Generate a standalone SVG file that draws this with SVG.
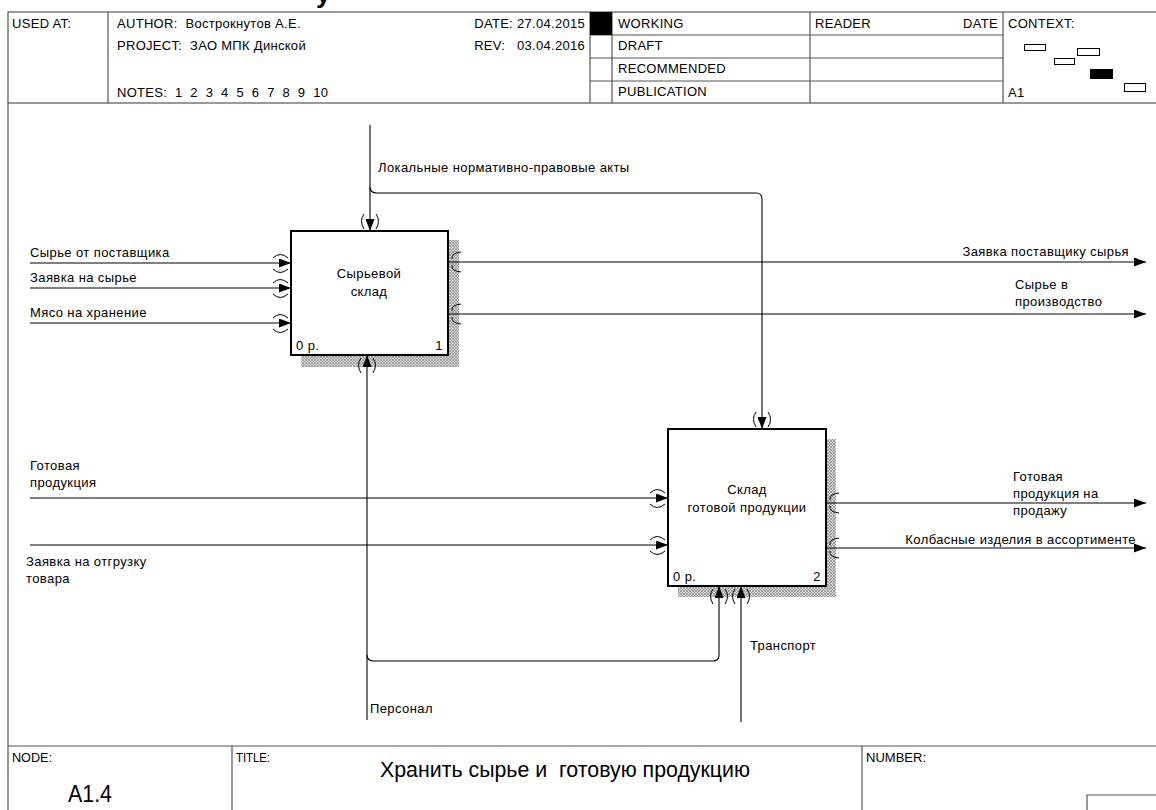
<svg xmlns="http://www.w3.org/2000/svg" width="1156" height="810" viewBox="0 0 1156 810">
<style>
text{font-family:"Liberation Sans",Arial,sans-serif;font-size:13px;letter-spacing:0.4px;fill:#000;white-space:pre}
.hdr{font-size:13px;letter-spacing:0.3px}
.frame{fill:none;stroke:#555;stroke-width:1.2}
.box{fill:#fff;stroke:#000;stroke-width:2}
.arr{fill:none;stroke:#000;stroke-width:1.1}
.tun{fill:none;stroke:#000;stroke-width:1}
.narrow{font-size:12px;letter-spacing:0}
</style>
<defs>
<marker id="ah" markerUnits="userSpaceOnUse" markerWidth="12" markerHeight="9" refX="12" refY="4.5" orient="auto">
<path d="M0,0 L12,4.5 L0,9 z" fill="#000"/>
</marker>
<pattern id="hatch" width="3" height="3" patternUnits="userSpaceOnUse">
<rect width="3" height="3" fill="#d8d8d8"/>
<path d="M0,3 L3,0 M0,0 L3,3" stroke="#8a8a8a" stroke-width="0.7"/>
</pattern>
</defs>
<rect width="1156" height="810" fill="#fff"/>
<text x="316" y="3" style="font-size:26px;font-weight:bold">у</text>
<g id="header">
<rect class="frame" x="8" y="12" width="1160" height="91"/>
<line class="frame" x1="108" y1="12" x2="108" y2="103"/>
<line class="frame" x1="590" y1="12" x2="590" y2="103"/>
<line class="frame" x1="612" y1="12" x2="612" y2="103"/>
<line class="frame" x1="810" y1="12" x2="810" y2="103"/>
<line class="frame" x1="1003" y1="12" x2="1003" y2="103"/>
<line class="frame" x1="590" y1="35" x2="1003" y2="35"/>
<line class="frame" x1="590" y1="58" x2="1003" y2="58"/>
<line class="frame" x1="590" y1="81" x2="1003" y2="81"/>
<rect x="590" y="12" width="22" height="23" fill="#000"/>
<text class="hdr" x="12" y="28">USED AT:</text>
<text class="hdr" x="117" y="28" xml:space="preserve">AUTHOR:  Вострокнутов А.Е.</text>
<text class="hdr" x="117" y="50" xml:space="preserve">PROJECT:  ЗАО МПК Динской</text>
<text class="hdr" x="117" y="97" xml:space="preserve">NOTES:  1  2  3  4  5  6  7  8  9  10</text>
<text class="hdr" x="585" y="28" text-anchor="end">DATE: 27.04.2015</text>
<text class="hdr" x="585" y="50" text-anchor="end" xml:space="preserve">REV:   03.04.2016</text>
<text class="hdr" x="618" y="28">WORKING</text>
<text class="hdr" x="618" y="50">DRAFT</text>
<text class="hdr" x="618" y="73">RECOMMENDED</text>
<text class="hdr" x="618" y="96">PUBLICATION</text>
<text class="hdr" x="815" y="28">READER</text>
<text class="hdr" x="998" y="28" text-anchor="end">DATE</text>
<text class="hdr" x="1008" y="28">CONTEXT:</text>
<text class="hdr" x="1008" y="97">A1</text>
<rect x="1024.5" y="44.5" width="21" height="6" fill="#fff" stroke="#000"/>
<rect x="1077.5" y="48.5" width="22" height="7" fill="#fff" stroke="#000"/>
<rect x="1054.5" y="58.5" width="20" height="6" fill="#fff" stroke="#000"/>
<rect x="1090" y="69" width="23" height="10" fill="#000"/>
<rect x="1124.5" y="83.5" width="21" height="8" fill="#fff" stroke="#000"/>
</g>
<g id="area">
<line class="frame" x1="8" y1="103" x2="8" y2="810"/>
</g>
<g id="footer">
<line class="frame" x1="8" y1="746" x2="1160" y2="746"/>
<line class="frame" x1="232" y1="746" x2="232" y2="810"/>
<line class="frame" x1="862" y1="746" x2="862" y2="810"/>
<path class="frame" d="M1087,810 L1087,795 L1160,795"/>
<text x="12" y="762" class="narrow" textLength="40" lengthAdjust="spacingAndGlyphs">NODE:</text>
<text x="236" y="762" class="narrow" textLength="34" lengthAdjust="spacingAndGlyphs">TITLE:</text>
<text x="866" y="762" class="narrow" textLength="60" lengthAdjust="spacingAndGlyphs">NUMBER:</text>
<text x="68" y="802" style="font-size:23px;letter-spacing:0" textLength="44" lengthAdjust="spacingAndGlyphs">A1.4</text>
<text x="380" y="777" style="font-size:22px;letter-spacing:0" textLength="370" lengthAdjust="spacingAndGlyphs" xml:space="preserve">Хранить сырье и  готовую продукцию</text>
</g>
<g id="node1">
<rect x="448" y="240" width="11" height="127" fill="url(#hatch)"/>
<rect x="301" y="355" width="158" height="12" fill="url(#hatch)"/>
<rect class="box" x="291" y="231" width="157" height="124"/>
<text x="369" y="278" text-anchor="middle">Сырьевой</text>
<text x="369" y="296" text-anchor="middle">склад</text>
<text x="296" y="350">0 р.</text>
<text x="443" y="350" text-anchor="end">1</text>
</g>
<g id="node2">
<rect x="826" y="439" width="10" height="158" fill="url(#hatch)"/>
<rect x="678" y="586" width="158" height="11" fill="url(#hatch)"/>
<rect class="box" x="668" y="429" width="158" height="157"/>
<text x="747" y="494" text-anchor="middle">Склад</text>
<text x="747" y="512" text-anchor="middle">готовой продукции</text>
<text x="673" y="581">0 р.</text>
<text x="821" y="581" text-anchor="end">2</text>
</g>
<g id="connectors">
<path class="arr" d="M30,263 L291,263" marker-end="url(#ah)"/>
<path class="arr" d="M30,288 L291,288" marker-end="url(#ah)"/>
<path class="arr" d="M30,323 L291,323" marker-end="url(#ah)"/>
<path class="tun" d="M273,258 Q280,251 288,258 M273,269 Q280,276 288,269"/>
<path class="tun" d="M273,283 Q280,276 288,283 M273,294 Q280,301 288,294"/>
<path class="tun" d="M273,318 Q280,311 288,318 M273,329 Q280,336 288,329"/>
<path class="arr" d="M370,125 L370,231" marker-end="url(#ah)"/>
<path class="tun" d="M364,214 Q359,221 364,229 M376,214 Q381,221 376,229"/>
<path class="arr" d="M370,187 Q370,193 377,193 L756,193 Q762,193 762,199 L762,429" marker-end="url(#ah)"/>
<path class="tun" d="M756,412 Q751,419 756,427 M768,412 Q773,419 768,427"/>
<path class="arr" d="M448,262 L1146,262" marker-end="url(#ah)"/>
<path class="arr" d="M448,314 L1146,314" marker-end="url(#ah)"/>
<path class="tun" d="M461,252 Q451,253 452,259 M461,272 Q451,271 452,265"/>
<path class="tun" d="M461,304 Q451,305 452,311 M461,324 Q451,323 452,317"/>
<path class="arr" d="M367,720 L367,355" marker-end="url(#ah)"/>
<path class="tun" d="M361,358 Q356,365 361,373 M373,358 Q378,365 373,373"/>
<path class="arr" d="M367,655 Q367,661 374,661 L713,661 Q719,661 719,655 L719,586" marker-end="url(#ah)"/>
<path class="tun" d="M713,589 Q708,596 713,604 M725,589 Q730,596 725,604"/>
<path class="arr" d="M741,722 L741,586" marker-end="url(#ah)"/>
<path class="tun" d="M735,589 Q730,596 735,604 M747,589 Q752,596 747,604"/>
<path class="arr" d="M30,498 L668,498" marker-end="url(#ah)"/>
<path class="arr" d="M30,545 L668,545" marker-end="url(#ah)"/>
<path class="tun" d="M650,493 Q657,486 665,493 M650,504 Q657,511 665,504"/>
<path class="tun" d="M650,540 Q657,533 665,540 M650,551 Q657,558 665,551"/>
<path class="arr" d="M826,503 L1146,503" marker-end="url(#ah)"/>
<path class="arr" d="M826,548 L1146,548" marker-end="url(#ah)"/>
<path class="tun" d="M839,493 Q829,494 830,500 M839,513 Q829,512 830,506"/>
<path class="tun" d="M839,538 Q829,539 830,545 M839,558 Q829,557 830,551"/>
</g>
<g id="labels">
<text x="30" y="257">Сырье от поставщика</text>
<text x="30" y="282">Заявка на сырье</text>
<text x="30" y="317">Мясо на хранение</text>
<text x="378" y="172">Локальные нормативно-правовые акты</text>
<text x="1129" y="256" text-anchor="end">Заявка поставщику сырья</text>
<text x="1015" y="289">Сырье в</text>
<text x="1015" y="306">производство</text>
<text x="30" y="470">Готовая</text>
<text x="30" y="487">продукция</text>
<text x="26" y="566">Заявка на отгрузку</text>
<text x="26" y="583">товара</text>
<text x="1013" y="481">Готовая</text>
<text x="1013" y="498">продукция на</text>
<text x="1013" y="515">продажу</text>
<text x="1136" y="544" text-anchor="end">Колбасные изделия в ассортименте</text>
<text x="750" y="650">Транспорт</text>
<text x="370" y="713">Персонал</text>
</g>
</svg>
